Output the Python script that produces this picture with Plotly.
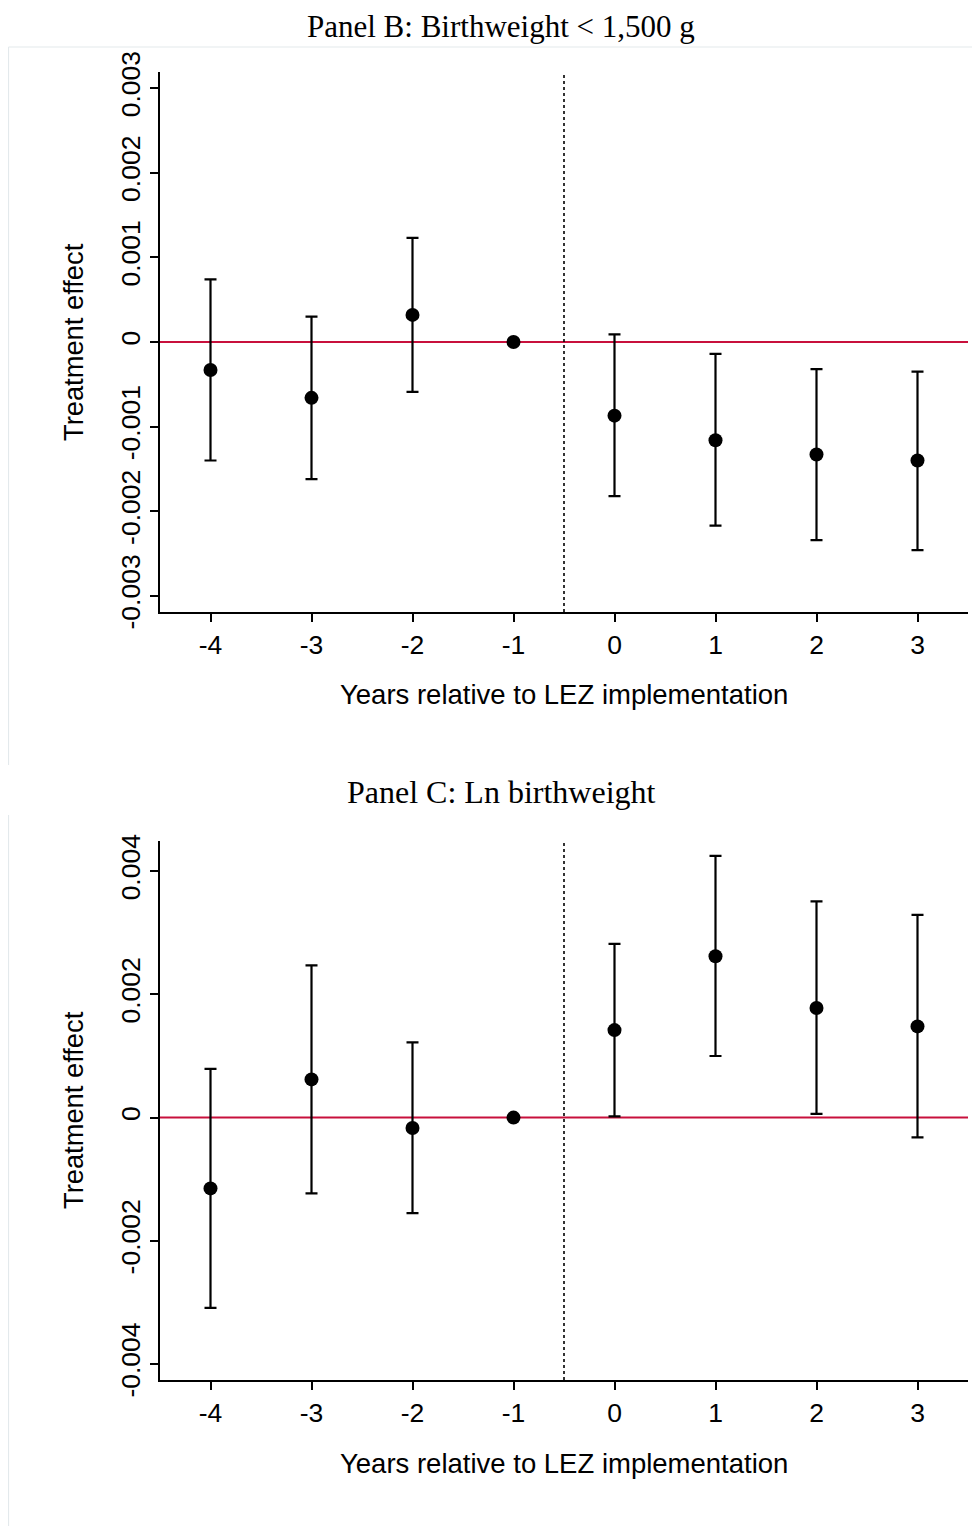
import plotly.graph_objects as go

# ---- data ----
years = [-4, -3, -2, -1, 0, 1, 2, 3]
x_ticklabels = ["-4", "-3", "-2", "-1", "0", "1", "2", "3"]

b_est = [-0.00033, -0.00066, 0.00032, 0.0, -0.00087, -0.00116, -0.00133, -0.00140]
b_upper = [0.00074, 0.00030, 0.00123, 0.0, 0.00009, -0.00014, -0.00032, -0.00035]
b_lower = [-0.00140, -0.00162, -0.00059, 0.0, -0.00182, -0.00217, -0.00234, -0.00246]
b_tickvals = [0.003, 0.002, 0.001, 0.0, -0.001, -0.002, -0.003]
b_ticktext = ["0.003", "0.002", "0.001", "0", "-0.001", "-0.002", "-0.003"]

c_est = [-0.00115, 0.00062, -0.00017, 0.0, 0.00142, 0.00262, 0.00178, 0.00148]
c_upper = [0.00079, 0.00247, 0.00122, 0.0, 0.00282, 0.00425, 0.00351, 0.00329]
c_lower = [-0.00309, -0.00123, -0.00155, 0.0, 0.00002, 0.00100, 0.00006, -0.00032]
c_tickvals = [0.004, 0.002, 0.0, -0.002, -0.004]
c_ticktext = ["0.004", "0.002", "0", "-0.002", "-0.004"]

title_b = "Panel B: Birthweight < 1,500 g"
title_c = "Panel C: Ln birthweight"
x_title = "Years relative to LEZ implementation"
y_title = "Treatment effect"

# ---- figure ----
W, H = 980, 1526
OFF = 8  # page body margin
def px(x):
    return max(x - OFF, 0.5) / W
def py(y):
    return 1 - (y - OFF) / H

fig = go.Figure()

def add_series(est, up, lo, xa, ya):
    fig.add_trace(go.Scatter(
        x=years, y=est, mode="markers",
        marker=dict(color="black", size=14),
        error_y=dict(type="data", symmetric=False,
                     array=[u - e for u, e in zip(up, est)],
                     arrayminus=[e - l for l, e in zip(lo, est)],
                     color="black", thickness=2.2, width=6),
        xaxis=xa, yaxis=ya, showlegend=False, hoverinfo="skip"))

add_series(b_est, b_upper, b_lower, "x", "y")
add_series(c_est, c_upper, c_lower, "x2", "y2")

sans = "Liberation Sans, Arial, sans-serif"
serif = "Liberation Serif, Times New Roman, serif"

xcommon = dict(range=[-4.5, 3.5], tickvals=years, ticktext=x_ticklabels,
               showline=True, linecolor="black", linewidth=1.5,
               ticks="outside", ticklen=8, tickwidth=1.5, tickcolor="black",
               showgrid=False, zeroline=False, automargin=False,
               tickfont=dict(family=sans, size=26.5, color="black"))
ycommon = dict(showline=True, linecolor="black", linewidth=1.5,
               ticks="outside", ticklen=8, tickwidth=1.5, tickcolor="black",
               showgrid=False, zeroline=False, tickangle=-90, automargin=False,
               tickfont=dict(family=sans, size=26.5, color="black"))

xdom = [px(160), px(968)]
fig.update_layout(
    template="none",
    width=W, height=H, autosize=False,
    margin=dict(l=0, r=0, t=0, b=0, pad=0),
    paper_bgcolor="white", plot_bgcolor="white",
    xaxis=dict(domain=xdom, anchor="y", **xcommon),
    yaxis=dict(domain=[py(612), py(72)], anchor="x", range=[-0.00319, 0.00319],
               tickvals=b_tickvals, ticktext=b_ticktext, **ycommon),
    xaxis2=dict(domain=xdom, anchor="y2", **xcommon),
    yaxis2=dict(domain=[py(1380), py(841)], anchor="x2", range=[-0.00426, 0.00449],
                tickvals=c_tickvals, ticktext=c_ticktext, **ycommon),
)

shapes = []
# faint panel borders
border = dict(color="#E3E9EC", width=1.2)
shapes.append(dict(type="line", xref="paper", yref="paper",
                   x0=px(7), x1=1.0, y0=py(47), y1=py(47), line=border, layer="below"))
shapes.append(dict(type="line", xref="paper", yref="paper",
                   x0=px(7), x1=px(7), y0=py(47), y1=py(765), line=border, layer="below"))
shapes.append(dict(type="line", xref="paper", yref="paper",
                   x0=px(6), x1=px(6), y0=py(815), y1=py(1540), line=border, layer="below"))
for xa, ya in [("x", "y"), ("x2", "y2")]:
    shapes.append(dict(type="line", xref=xa + " domain", yref=ya,
                       x0=0, x1=1, y0=0, y1=0,
                       line=dict(color="#C8103C", width=2), layer="below"))
    shapes.append(dict(type="line", xref=xa, yref=ya + " domain",
                       x0=-0.5, x1=-0.5, y0=0, y1=1,
                       line=dict(color="black", width=1.6, dash="3px,3px"), layer="below"))
fig.update_layout(shapes=shapes)

ann = []
ann.append(dict(text=title_b, x=px(501), y=1.0, xref="paper", yref="paper",
                showarrow=False, xanchor="center", yanchor="top", borderpad=0,
                font=dict(family=serif, size=31, color="black")))
ann.append(dict(text=title_c, x=px(501), y=py(792), xref="paper", yref="paper",
                showarrow=False, xanchor="center", yanchor="middle",
                font=dict(family=serif, size=32, color="black")))
for yc in [342, 1110]:
    ann.append(dict(text=y_title, x=px(73), y=py(yc), xref="paper", yref="paper",
                    showarrow=False, xanchor="center", yanchor="middle", textangle=-90,
                    font=dict(family=sans, size=27.3, color="black")))
for yc in [694, 1463]:
    ann.append(dict(text=x_title, x=px(564), y=py(yc), xref="paper", yref="paper",
                    showarrow=False, xanchor="center", yanchor="middle",
                    font=dict(family=sans, size=27.5, color="black")))
fig.update_layout(annotations=ann)

fig.write_html("out.html")
